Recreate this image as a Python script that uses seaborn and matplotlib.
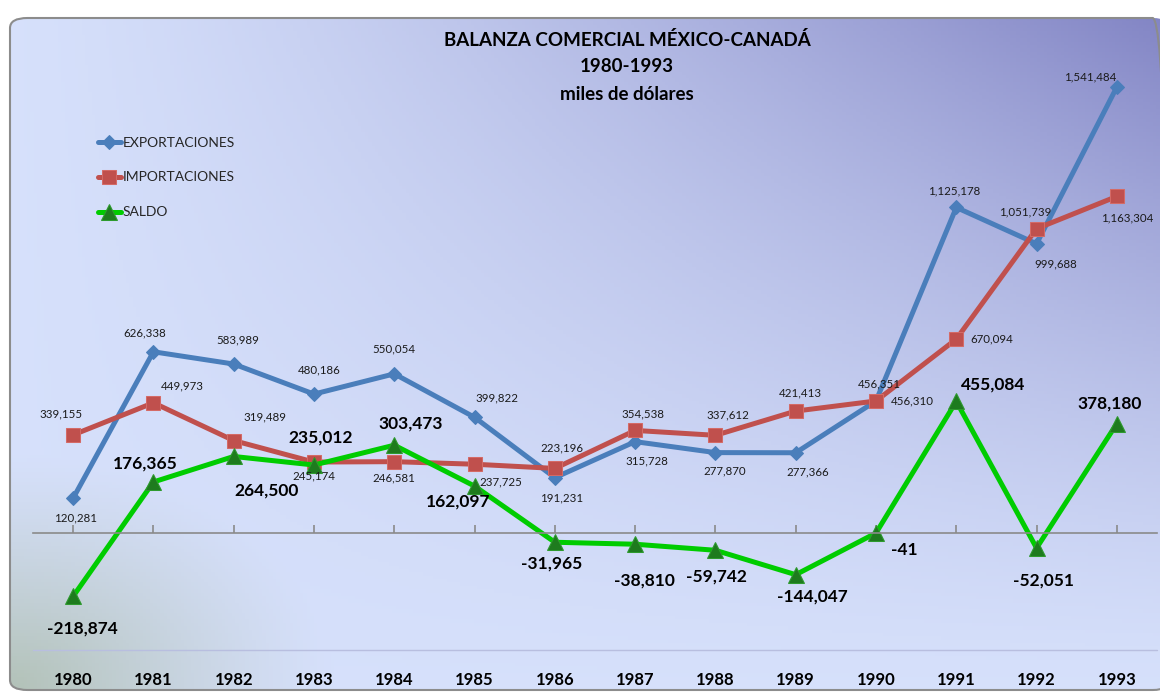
import numpy as np
import pandas as pd
import seaborn as sns
import matplotlib.pyplot as plt
from matplotlib.patches import FancyBboxPatch
from matplotlib.transforms import blended_transform_factory

# data (miles de dólares)
years = [1980, 1981, 1982, 1983, 1984, 1985, 1986,
         1987, 1988, 1989, 1990, 1991, 1992, 1993]
exportaciones = [120281, 626338, 583989, 480186, 550054, 399822, 191231,
                 315728, 277870, 277366, 456351, 1125178, 999688, 1541484]
importaciones = [339155, 449973, 319489, 245174, 246581, 237725, 223196,
                 354538, 337612, 421413, 456310, 670094, 1051739, 1163304]
saldo = [-218874, 176365, 264500, 235012, 303473, 162097, -31965,
         -38810, -59742, -144047, -41, 455084, -52051, 378180]

# label offsets in pixels (dx, dy)
off_exp = [(2, -20), (-9, 19), (4, 24), (5, 24), (0, 25), (22, 19), (7, -20),
           (12, -19), (9, -18), (12, -19), (3, 17), (-2, 17), (19, -20), (-27, 10)]
off_imp = [(-12, 21), (29, 17), (31, 24), (0, -14), (0, -16), (26, -18), (7, 21),
           (8, 17), (12, 20), (5, 18), (36, 0), (36, 0), (-11, 17), (10, -22)]
off_sal = [(9, -32), (-8, 18), (33, -34), (7, 27), (16, 22), (-16, -15), (-3, -21),
           (9, -36), (1, -26), (17, -22), (28, -17), (37, 17), (7, -32), (-7, 20)]

sns.set_style("white")
plt.rcParams['font.family'] = ['Lato', 'DejaVu Sans']

fig = plt.figure(figsize=(11.6, 6.96), dpi=100)
fig.patch.set_facecolor("white")

# background gradient inside a rounded frame
bg = fig.add_axes([10 / 1160, 6 / 696, 1.0, 672 / 696])
bg.set_axis_off()
H, W = 200, 340
u = np.linspace(0, 1, W)[None, :]
v = np.linspace(0, 1, H)[:, None]
t = np.clip(u * (1 - v), 0, 1) ** 1.3
light = np.array([0.84, 0.88, 0.985])
dark = np.array([0.51, 0.52, 0.77])
img = light[None, None, :] * (1 - t[..., None]) + dark[None, None, :] * t[..., None]
g = np.clip(1 - np.sqrt((u / 0.28) ** 2 + ((1 - v) / 0.35) ** 2), 0, 1) ** 1.2
corner = np.array([0.70, 0.76, 0.72])
img = img * (1 - g[..., None]) + corner[None, None, :] * g[..., None]
im = bg.imshow(img, extent=[0, 1, 0, 1], aspect="auto", origin="upper")
bg.set_xlim(0, 1)
bg.set_ylim(0, 1)
frame = FancyBboxPatch((0.0, 0.0), 1.0, 1.0,
                       boxstyle="round,pad=0,rounding_size=0.015",
                       transform=bg.transAxes, facecolor="none",
                       edgecolor="#8c8c8c", linewidth=1.5, clip_on=False)
bg.add_patch(frame)
im.set_clip_path(frame)

# main chart
ax = fig.add_axes([33 / 1160, 46 / 696, 1124 / 1160, 620 / 696])
ax.patch.set_alpha(0)

sns.lineplot(x=years, y=exportaciones, ax=ax, color="#4a7ebb", linewidth=3.6,
             marker="D", markersize=7, markeredgecolor="#4a7ebb",
             label="EXPORTACIONES")
sns.lineplot(x=years, y=importaciones, ax=ax, color="#c0504d", linewidth=3.6,
             marker="s", markersize=10, markeredgecolor="#d46a66",
             label="IMPORTACIONES")
sns.lineplot(x=years, y=saldo, ax=ax, color="#00cc00", linewidth=3.6,
             marker="^", markersize=11, markerfacecolor="#1e7b1e",
             markeredgecolor="#2e9a2e", label="SALDO")

ax.set_xlim(1979.5, 1993.5)
ax.set_ylim(-404380, 1738500)

for s in ["top", "right", "left"]:
    ax.spines[s].set_visible(False)
ax.spines["bottom"].set_position(("data", 0))
ax.spines["bottom"].set_color("#8a8a8a")
ax.spines["bottom"].set_linewidth(1.2)
ax.set_xticks(years)
ax.tick_params(axis="x", direction="in", length=6, width=1.2, color="#8a8a8a",
               bottom=True, labelbottom=False)
ax.set_yticks([])
ax.set_xlabel("")
ax.set_ylabel("")

# plot area bottom edge
ax.axhline(-404380, color="#b8bedf", linewidth=1.0, clip_on=False)

tr = blended_transform_factory(ax.transData, fig.transFigure)
for yr in years:
    ax.text(yr, 16 / 696, str(yr), transform=tr, ha="center", va="center",
            fontsize=12, fontweight="bold", color="black")

for yr, val, (dx, dy) in zip(years, exportaciones, off_exp):
    ax.annotate(f"{val:,}", (yr, val), xytext=(dx, dy), textcoords="offset pixels",
                ha="center", va="center", fontsize=8.3, color="#1a1a1a")
for yr, val, (dx, dy) in zip(years, importaciones, off_imp):
    ax.annotate(f"{val:,}", (yr, val), xytext=(dx, dy), textcoords="offset pixels",
                ha="center", va="center", fontsize=8.3, color="#1a1a1a")
for yr, val, (dx, dy) in zip(years, saldo, off_sal):
    ax.annotate(f"{val:,}", (yr, val), xytext=(dx, dy), textcoords="offset pixels",
                ha="center", va="center", fontsize=12.5, fontweight="bold",
                color="black")

leg = ax.legend(loc="upper left", bbox_to_anchor=(92 / 1160, 1 - 131 / 696),
                bbox_transform=fig.transFigure, frameon=False, fontsize=10,
                handlelength=1.7, handletextpad=0.1, labelspacing=1.65,
                borderaxespad=0)

# title
title_lines = ["BALANZA COMERCIAL MÉXICO-CANADÁ", "1980-1993", "miles de dólares"]
for i, line in enumerate(title_lines):
    fig.text(627 / 1160, 1 - (40 + 27 * i) / 696, line, ha="center", va="center",
             fontsize=13.5, fontweight="bold", color="black")

fig.savefig("out.png", dpi=100)
